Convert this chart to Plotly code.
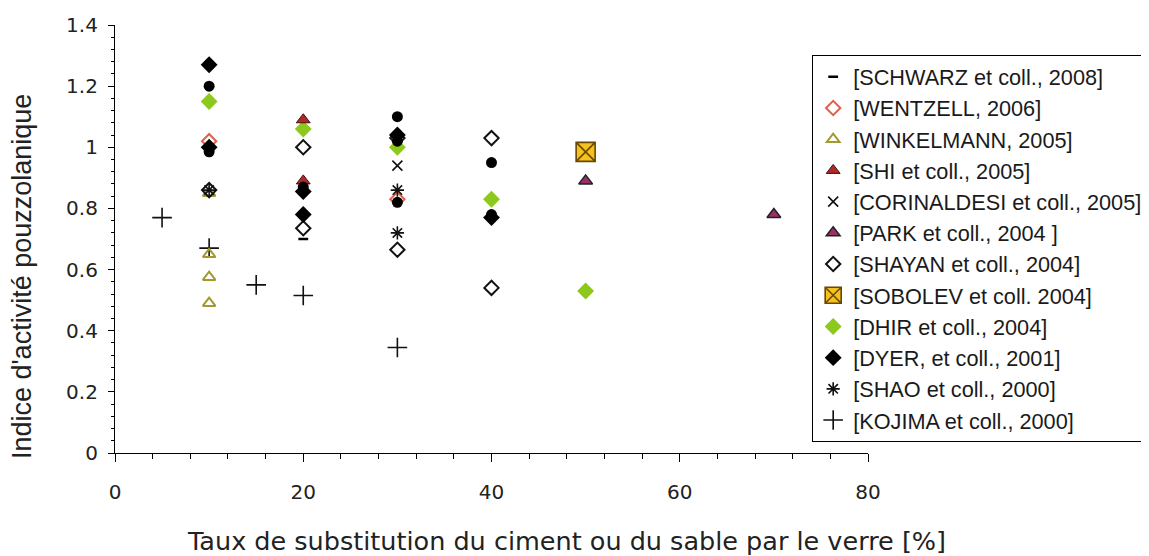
import plotly.graph_objects as go

# ---- data ----
schwarz_x = [20]
schwarz_y = [0.70]
wentzell_x = [10, 30]
wentzell_y = [1.02, 0.83]
winkelmann_x = [10, 10, 10, 10]
winkelmann_y = [0.85, 0.65, 0.575, 0.49]
shi_x = [20, 20]
shi_y = [1.09, 0.89]
corinaldesi_x = [30]
corinaldesi_y = [0.94]
park_x = [50, 70]
park_y = [0.89, 0.78]
shayan_x = [10, 20, 20, 30, 30, 40, 40]
shayan_y = [0.86, 1.00, 0.735, 1.03, 0.665, 1.03, 0.54]
sobolev_x = [50]
sobolev_y = [0.985]
dhir_x = [10, 20, 30, 40, 50]
dhir_y = [1.15, 1.06, 1.00, 0.83, 0.53]
dyer_x = [10, 10, 20, 20, 30, 40]
dyer_y = [1.27, 1.00, 0.855, 0.78, 1.04, 0.77]
shao_x = [10, 30, 30]
shao_y = [0.86, 0.86, 0.72]
kojima_x = [5, 10, 15, 20, 30]
kojima_y = [0.77, 0.67, 0.55, 0.515, 0.345]
other_x = [10, 10, 20, 30, 30, 30, 40, 40]
other_y = [1.20, 0.985, 0.87, 1.10, 1.02, 0.82, 0.95, 0.78]

legend_names = [
    "[SCHWARZ et coll., 2008]",
    "[WENTZELL, 2006]",
    "[WINKELMANN, 2005]",
    "[SHI et coll., 2005]",
    "[CORINALDESI et coll., 2005]",
    "[PARK et coll., 2004 ]",
    "[SHAYAN et coll., 2004]",
    "[SOBOLEV et coll. 2004]",
    "[DHIR et coll., 2004]",
    "[DYER, et coll., 2001]",
    "[SHAO et coll., 2000]",
    "[KOJIMA et coll., 2000]",
]

y_title = "Indice d'activité pouzzolanique"
x_title = "Taux de substitution du ciment ou du sable par le verre [%]"

fig = go.Figure()


def add(x, y, name, rank, symbol, size, color, lcolor=None, lwidth=0, show=True):
    fig.add_trace(go.Scatter(
        x=x, y=y, mode="markers", name=name if name else "",
        showlegend=show, legendrank=rank,
        marker=dict(symbol=symbol, size=size, color=color,
                    line=dict(color=lcolor if lcolor else color, width=lwidth)),
    ))


# drawing order (bottom to top)
add(kojima_x, kojima_y, legend_names[11], 12, "cross-thin-open", 14, "#111", "#111", 1.6)
add(winkelmann_x, winkelmann_y, legend_names[2], 3, "triangle-up-open", 11, "#A09A30", "#A09A30", 2)
add(shayan_x, shayan_y, legend_names[6], 7, "diamond-open", 11, "#111", "#111", 2)
add(wentzell_x, wentzell_y, legend_names[1], 2, "diamond-open", 11, "#E0604A", "#E0604A", 2)
add(dhir_x, dhir_y, legend_names[8], 9, "diamond", 13, "#8DC81C", "#8DC81C", 0)
add(shi_x, shi_y, legend_names[3], 4, "triangle-up", 12, "#B02828", "#401010", 1)
add(park_x, park_y, legend_names[5], 6, "triangle-up", 12, "#9A3068", "#222", 1.5)
add(sobolev_x, sobolev_y, legend_names[7], 8, "square-x", 19, "#F5C11E", "#6A4800", 1.6)
add(corinaldesi_x, corinaldesi_y, legend_names[4], 5, "x-thin-open", 10, "#111", "#111", 1.6)
add(shao_x, shao_y, legend_names[10], 11, "asterisk-open", 11, "#111", "#111", 1.6)
add(other_x, other_y, None, 13, "circle", 11, "#000", "#000", 0, show=False)
add(dyer_x, dyer_y, legend_names[9], 10, "diamond", 13, "#000", "#000", 0)
add(schwarz_x, schwarz_y, legend_names[0], 1, "line-ew-open", 7, "#000", "#000", 2.5)

axis_common = dict(
    showline=True, linecolor="#000", linewidth=1.2,
    ticks="outside", tickcolor="#000", tickwidth=1.2,
    showgrid=False, zeroline=False,
    tickfont=dict(family="DejaVu Sans", size=20, color="#222"),
)

fig.update_layout(
    width=1149, height=556,
    margin=dict(l=107, r=289, t=17, b=111, autoexpand=False),
    paper_bgcolor="white", plot_bgcolor="white",
    xaxis=dict(range=[0, 80], dtick=20, tick0=0, ticklen=8,
               minor=dict(dtick=4, ticks="outside", ticklen=5, tickcolor="#000", tickwidth=1.2),
               ticklabelstandoff=13, automargin=False, **axis_common),
    yaxis=dict(range=[0, 1.4], dtick=0.2, tick0=0, ticklen=6,
               minor=dict(dtick=0.04, ticks="outside", ticklen=3, tickcolor="#000", tickwidth=1),
               ticklabelstandoff=6, automargin=False, **axis_common),
    legend=dict(
        x=0.9256, y=0.93, xanchor="left", yanchor="top",
        bordercolor="#000", borderwidth=1.2, bgcolor="white",
        font=dict(family="Liberation Sans", size=21.7, color="#1a1a1a"),
        traceorder="normal",
    ),
    annotations=[
        dict(text=y_title, xref="paper", yref="paper", x=-0.1235, y=0.411,
             xanchor="center", yanchor="middle", textangle=-90, showarrow=False,
             font=dict(family="Liberation Sans", size=27, color="#222")),
        dict(text=x_title, xref="paper", yref="paper", x=0.599, y=-0.205,
             xanchor="center", yanchor="middle", showarrow=False,
             font=dict(family="DejaVu Sans", size=25.5, color="#222")),
    ],
)

fig.write_html("out.html")
